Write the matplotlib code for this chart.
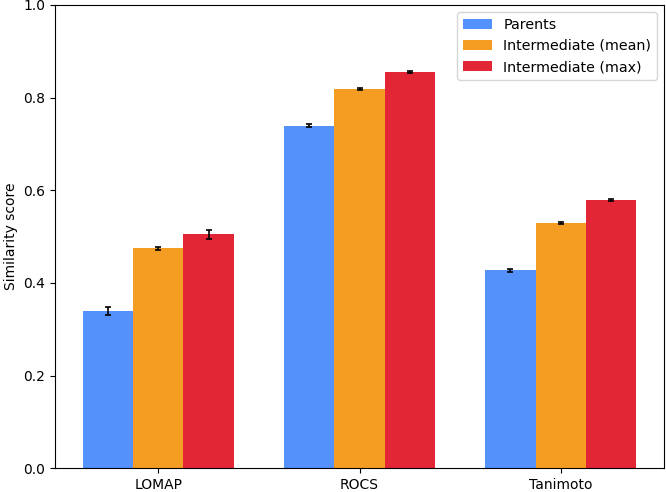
import matplotlib
matplotlib.use("Agg")
import matplotlib.pyplot as plt
import numpy as np

categories = ["LOMAP", "ROCS", "Tanimoto"]
series_names = ["Parents", "Intermediate (mean)", "Intermediate (max)"]
parents = [0.340, 0.739, 0.427]
inter_mean = [0.475, 0.818, 0.529]
inter_max = [0.505, 0.855, 0.579]
parents_err = [0.008, 0.003, 0.003]
inter_mean_err = [0.003, 0.002, 0.002]
inter_max_err = [0.010, 0.002, 0.002]
colors = ["#5591FA", "#F59C22", "#E32636"]

plt.rcParams['font.size'] = 10
fig, ax = plt.subplots(figsize=(6.66, 4.92), dpi=100)
fig.subplots_adjust(left=0.0826, right=0.997, top=0.99, bottom=0.048)

x = np.arange(len(categories))
w = 0.25
vals = [parents, inter_mean, inter_max]
errs = [parents_err, inter_mean_err, inter_max_err]
for i, (v, e, n, c) in enumerate(zip(vals, errs, series_names, colors)):
    ax.bar(x + (i - 1) * w, v, w, yerr=e, capsize=2, color=c, label=n,
           error_kw=dict(elinewidth=1.2, capthick=1.2, ecolor="black"))

ax.set_xticks(x)
ax.set_xticklabels(categories)
ax.set_ylim(0, 1.0)
ax.set_yticks([0.0, 0.2, 0.4, 0.6, 0.8, 1.0])
ax.set_ylabel("Similarity score")
ax.legend(loc="upper right", fontsize=10.3)
fig.savefig("out.png", dpi=100)
